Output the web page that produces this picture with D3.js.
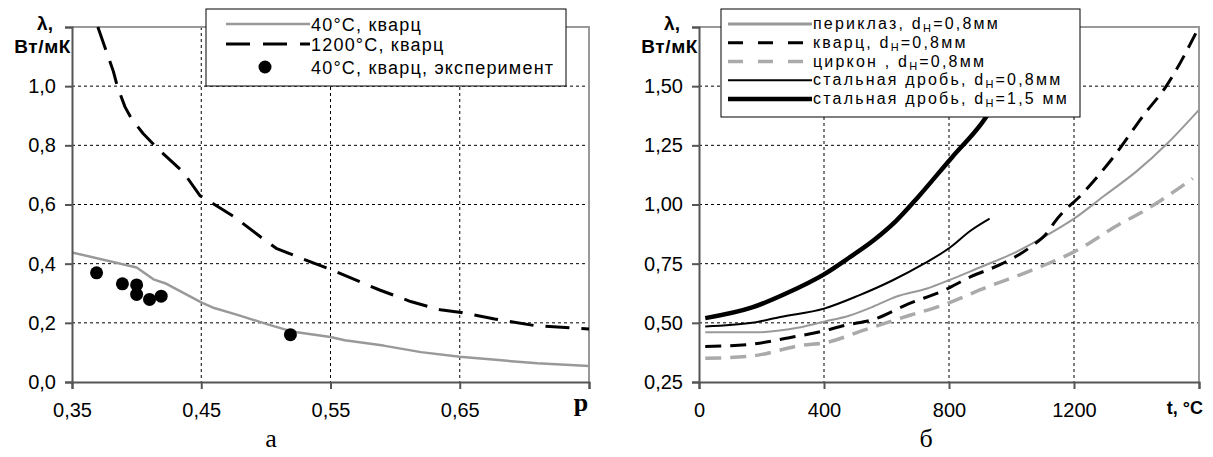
<!DOCTYPE html>
<html>
<head>
<meta charset="utf-8">
<script src="https://cdn.jsdelivr.net/npm/d3@7"></script>
<style>
  body { margin: 0; background: #fff; }
  svg { font-family: "Liberation Sans", Arial, sans-serif; }
  .grid line { stroke: #000; stroke-width: 1; stroke-dasharray: 3,3; }
  .axis path, .axis line { stroke: #555; stroke-width: 2; }
  .axis text { font-size: 20px; fill: #000; }
</style>
</head>
<body>
<div id="chart"></div>
<script>
// ---- chart а : lambda vs porosity ----
const pTicks = [0.35, 0.45, 0.55, 0.65, 0.75];
const lamTicksA = [0, 0.2, 0.4, 0.6, 0.8, 1.0, 1.2];

const p40 = [0.35, 0.40, 0.413, 0.422, 0.45, 0.46, 0.478, 0.502, 0.52, 0.55, 0.561, 0.591, 0.62, 0.65, 0.68, 0.71, 0.75];
const lam40 = [0.438, 0.387, 0.347, 0.334, 0.269, 0.25, 0.227, 0.194, 0.171, 0.152, 0.141, 0.123, 0.101, 0.085, 0.074, 0.063, 0.054];

const p1200 = [0.370, 0.382, 0.385, 0.391, 0.396, 0.405, 0.416, 0.436, 0.449, 0.475, 0.496, 0.508, 0.531, 0.550, 0.588, 0.612, 0.635, 0.651, 0.677, 0.709, 0.750];
const lam1200 = [1.20, 1.05, 1.00, 0.93, 0.89, 0.84, 0.79, 0.71, 0.63, 0.56, 0.49, 0.452, 0.412, 0.381, 0.311, 0.272, 0.244, 0.235, 0.213, 0.190, 0.179];

const pExp = [0.369, 0.389, 0.400, 0.400, 0.410, 0.419, 0.519];
const lamExp = [0.369, 0.332, 0.328, 0.296, 0.279, 0.290, 0.160];

const legendA = ["40°C, кварц", "1200°C, кварц", "40°C, кварц, эксперимент"];

// ---- chart б : lambda vs temperature ----
const tTicks = [0, 400, 800, 1200, 1600];
const lamTicksB = [0.25, 0.50, 0.75, 1.00, 1.25, 1.50, 1.75];

const tPericlase = [20, 180, 320, 400, 480, 560, 630, 730, 800, 900, 1000, 1100, 1200, 1300, 1400, 1500, 1600];
const lamPericlase = [0.46, 0.46, 0.48, 0.505, 0.53, 0.57, 0.61, 0.645, 0.68, 0.735, 0.79, 0.86, 0.94, 1.04, 1.14, 1.26, 1.40];

const tQuartz = [20, 170, 300, 380, 470, 560, 670, 780, 870, 970, 1060, 1120, 1135, 1230, 1320, 1430, 1490, 1600];
const lamQuartz = [0.40, 0.41, 0.44, 0.46, 0.49, 0.515, 0.58, 0.635, 0.695, 0.75, 0.82, 0.89, 0.92, 1.05, 1.19, 1.39, 1.49, 1.75];

const tZircon = [20, 170, 330, 400, 530, 670, 780, 920, 1060, 1200, 1350, 1420, 1515, 1580];
const lamZircon = [0.35, 0.36, 0.405, 0.415, 0.47, 0.53, 0.575, 0.65, 0.72, 0.80, 0.92, 0.97, 1.05, 1.11];

const tSteel08 = [20, 170, 260, 400, 510, 620, 720, 800, 870, 930];
const lamSteel08 = [0.485, 0.50, 0.525, 0.56, 0.615, 0.68, 0.75, 0.815, 0.89, 0.94];

const tSteel15 = [20, 170, 280, 400, 480, 560, 630, 700, 810, 900, 930, 980];
const lamSteel15 = [0.52, 0.565, 0.625, 0.705, 0.775, 0.85, 0.93, 1.03, 1.20, 1.335, 1.39, 1.47];

const legendB = [
  ["периклаз, d", "=0,8мм"],
  ["кварц, d", "=0,8мм"],
  ["циркон , d", "=0,8мм"],
  ["стальная дробь, d", "=0,8мм"],
  ["стальная дробь, d", "=1,5 мм"]
];

const svg = d3.select("#chart").append("svg")
  .attr("width", 1213).attr("height", 457);

function zip(xs, ys) { return xs.map((x, i) => [x, ys[i]]); }

function drawPanel(cfg) {
  const x = d3.scaleLinear().domain(cfg.xDomain).range([cfg.left, cfg.right]);
  const y = d3.scaleLinear().domain(cfg.yDomain).range([cfg.bottom, cfg.top]);
  const g = svg.append("g");

  // grid
  const grid = g.append("g").attr("class", "grid");
  grid.selectAll(".h").data(cfg.yTicks.slice(1, -1)).enter().append("line")
    .attr("x1", cfg.left).attr("x2", cfg.right)
    .attr("y1", d => y(d)).attr("y2", d => y(d));
  grid.selectAll(".v").data(cfg.xTicks.slice(1, -1)).enter().append("line")
    .attr("y1", cfg.top).attr("y2", cfg.bottom)
    .attr("x1", d => x(d)).attr("x2", d => x(d));

  // top / right frame
  g.append("path")
    .attr("d", `M${cfg.left},${cfg.top}H${cfg.right}V${cfg.bottom}`)
    .attr("fill", "none").attr("stroke", "#999").attr("stroke-width", 2);

  // series
  cfg.series.forEach(s => {
    g.append("path")
      .datum(s.data)
      .attr("fill", "none")
      .attr("stroke", s.color)
      .attr("stroke-width", s.width)
      .attr("stroke-dasharray", s.dash || null)
      .attr("stroke-linejoin", "round")
      .attr("d", d3.line().x(d => x(d[0])).y(d => y(d[1])).curve(cfg.curve)(s.data));
  });

  if (cfg.dots) {
    g.selectAll("circle").data(cfg.dots).enter().append("circle")
      .attr("cx", d => x(d[0])).attr("cy", d => y(d[1]))
      .attr("r", 6.5).attr("fill", "#000");
  }

  // axes
  g.append("g").attr("class", "axis")
    .attr("transform", `translate(0,${cfg.bottom})`)
    .call(d3.axisBottom(x).tickValues(cfg.xTicks).tickSize(7).tickPadding(14)
      .tickFormat((d, i) => i === cfg.xTicks.length - 1 ? "" : cfg.xFmt(d)));
  g.append("g").attr("class", "axis")
    .attr("transform", `translate(${cfg.left},0)`)
    .call(d3.axisLeft(y).tickValues(cfg.yTicks).tickSize(7).tickPadding(9)
      .tickFormat((d, i) => i === cfg.yTicks.length - 1 ? "" : cfg.yFmt(d)));
  g.selectAll(".axis .domain").attr("stroke", "#555").attr("stroke-width", 2);

  // y title
  g.append("text").attr("x", cfg.left - 27).attr("y", 30)
    .attr("text-anchor", "middle").attr("font-weight", "bold").attr("font-size", 19)
    .text("λ,");
  g.append("text").attr("x", cfg.left - 1).attr("y", 53)
    .attr("text-anchor", "end").attr("font-weight", "bold").attr("font-size", 19)
    .attr("letter-spacing", 0.6)
    .text("Вт/мК");

  return { x, y, g };
}

// panel а
drawPanel({
  left: 72, right: 589, top: 27, bottom: 382,
  xDomain: [0.35, 0.75], yDomain: [0, 1.2],
  xTicks: pTicks, yTicks: lamTicksA,
  xFmt: d => d3.format(".2f")(d).replace(".", ","),
  yFmt: d => d3.format(".1f")(d).replace(".", ","),
  curve: d3.curveLinear,
  series: [
    { data: zip(p40, lam40), color: "#999", width: 2.5 },
    { data: zip(p1200, lam1200), color: "#000", width: 3, dash: "24,12" }
  ],
  dots: zip(pExp, lamExp)
});

svg.append("text").attr("x", 581).attr("y", 411)
  .attr("text-anchor", "middle").attr("font-family", "Liberation Serif, Times New Roman, serif")
  .attr("font-weight", "bold").attr("font-size", 26).text("p");
svg.append("text").attr("x", 271).attr("y", 447)
  .attr("text-anchor", "middle").attr("font-family", "Liberation Serif, Times New Roman, serif")
  .attr("font-size", 26).text("а");

// panel б
drawPanel({
  left: 699, right: 1199, top: 27, bottom: 382,
  xDomain: [0, 1600], yDomain: [0.25, 1.75],
  xTicks: tTicks, yTicks: lamTicksB,
  xFmt: d => String(d),
  yFmt: d => d3.format(".2f")(d).replace(".", ","),
  curve: d3.curveMonotoneX,
  series: [
    { data: zip(tPericlase, lamPericlase), color: "#999", width: 2 },
    { data: zip(tZircon, lamZircon), color: "#aaa", width: 3.5, dash: "16,9" },
    { data: zip(tQuartz, lamQuartz), color: "#000", width: 3, dash: "16,9" },
    { data: zip(tSteel08, lamSteel08), color: "#000", width: 2 },
    { data: zip(tSteel15, lamSteel15), color: "#000", width: 4.5 }
  ]
});

svg.append("text").attr("x", 1203).attr("y", 414)
  .attr("text-anchor", "end").attr("font-weight", "bold").attr("font-size", 18)
  .text("t, °C");
svg.append("text").attr("x", 926).attr("y", 447)
  .attr("text-anchor", "middle").attr("font-family", "Liberation Serif, Times New Roman, serif")
  .attr("font-size", 26).text("б");

// legend а
const lgA = svg.append("g");
lgA.append("rect").attr("x", 206).attr("y", 9).attr("width", 360).attr("height", 77)
  .attr("fill", "#fff").attr("stroke", "#000").attr("stroke-width", 1);
const rowA = [24, 44, 67];
const styleA = [
  { color: "#999", width: 2.5 },
  { color: "#000", width: 3, dash: "24,13" },
  null
];
legendA.forEach((t, i) => {
  if (styleA[i]) {
    lgA.append("line").attr("x1", 226).attr("x2", 310).attr("y1", rowA[i]).attr("y2", rowA[i])
      .attr("stroke", styleA[i].color).attr("stroke-width", styleA[i].width)
      .attr("stroke-dasharray", styleA[i].dash || null);
  } else {
    lgA.append("circle").attr("cx", 265).attr("cy", rowA[i]).attr("r", 6.5).attr("fill", "#000");
  }
  lgA.append("text").attr("x", 311).attr("y", rowA[i] + 6.5)
    .attr("font-size", 18).attr("letter-spacing", 1.2).text(t);
});

// legend б
const lgB = svg.append("g");
lgB.append("rect").attr("x", 721).attr("y", 9).attr("width", 359).attr("height", 108)
  .attr("fill", "#fff").attr("stroke", "#000").attr("stroke-width", 1);
const rowB = [24, 42.75, 61.5, 80.25, 99];
const styleB = [
  { color: "#999", width: 3 },
  { color: "#000", width: 3, dash: "15,15" },
  { color: "#aaa", width: 3.5, dash: "15,15" },
  { color: "#000", width: 2 },
  { color: "#000", width: 4.5 }
];
legendB.forEach((t, i) => {
  lgB.append("line").attr("x1", 728).attr("x2", 812).attr("y1", rowB[i]).attr("y2", rowB[i])
    .attr("stroke", styleB[i].color).attr("stroke-width", styleB[i].width)
    .attr("stroke-dasharray", styleB[i].dash || null);
  const tx = lgB.append("text").attr("x", 813).attr("y", rowB[i] + 5)
    .attr("font-size", 16).attr("letter-spacing", 2.2);
  tx.append("tspan").text(t[0]);
  tx.append("tspan").attr("dy", 3).attr("font-size", 11).text("Н");
  tx.append("tspan").attr("dy", -3).text(t[1]);
});
</script>
</body>
</html>
